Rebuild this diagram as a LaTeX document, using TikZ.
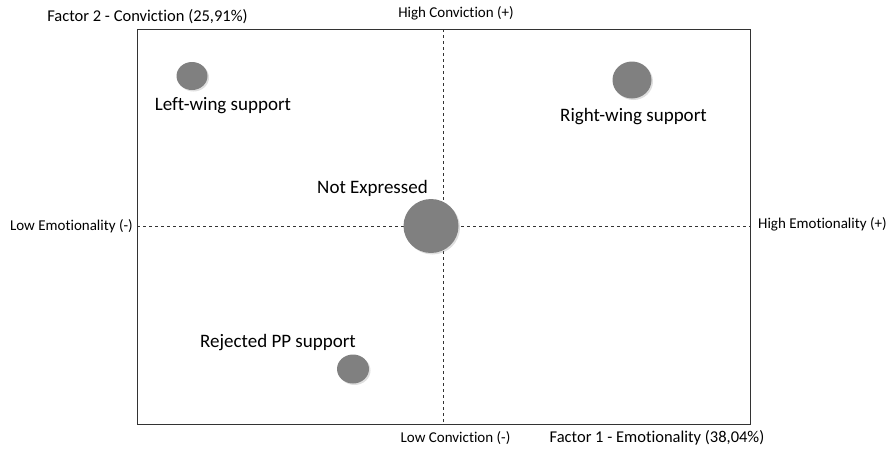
\documentclass[tikz,border=0pt]{standalone}
\usepackage{fontspec}
\setmainfont{Carlito}[Ligatures=NoCommon]
\usetikzlibrary{shapes.geometric,shadows}

\begin{document}
\begin{tikzpicture}[x=1pt, y=-1pt,
    blob/.style={ellipse, fill=black!50, inner sep=0pt,
        drop shadow={opacity=0.25, shadow xshift=1.5pt, shadow yshift=-1.5pt}},
    biglabel/.style={font=\fontsize{19}{22}\selectfont, inner sep=0pt},
    axislabel/.style={font=\fontsize{15}{18}\selectfont, inner sep=0pt},
    factorlabel/.style={font=\fontsize{16.5}{19}\selectfont, inner sep=0pt}]
    \useasboundingbox (0,0) rectangle (893,450);
    % frame and axes
    \draw[line width=0.9pt, black!80] (137,29) rectangle (750,424);
    \coordinate (top) at (443,29);
    \coordinate (bottom) at (443,424);
    \coordinate (left) at (137,226);
    \coordinate (right) at (750,226);
    \draw[dashed, black!80] (top) -- (bottom);
    \draw[dashed, black!80] (left) -- (right);
    % axis texts
    \node[factorlabel] (f2) at (147.5,17) {Factor 2 - Conviction (25,91\%)};
    \node[axislabel] (hc) at (456,13) {High Conviction (+)};
    \node[axislabel, anchor=east] (le) at (133,226) {Low Emotionality (-)};
    \node[axislabel, anchor=west] (he) at (758,224) {High Emotionality (+)};
    \node[axislabel] (lc) at (455.5,438) {Low Conviction (-)};
    \node[factorlabel] (f1) at (657,438) {Factor 1 - Emotionality (38,04\%)};
    % groups
    \node[blob, minimum width=31pt, minimum height=28pt] (lw) at (192,76) {};
    \node[blob, minimum width=39pt, minimum height=37pt] (rw) at (632,80) {};
    \node[blob, minimum width=55pt, minimum height=54pt] (ne) at (431,226) {};
    \node[blob, minimum width=32pt, minimum height=29pt] (rp) at (353,369) {};
    \node[biglabel] (lwt) at (223,106) {Left-wing support};
    \node[biglabel] (rwt) at (633.5,117) {Right-wing support};
    \node[biglabel] (net) at (372.5,188) {Not Expressed};
    \node[biglabel] (rpt) at (278,343) {Rejected PP support};
\end{tikzpicture}
\end{document}
